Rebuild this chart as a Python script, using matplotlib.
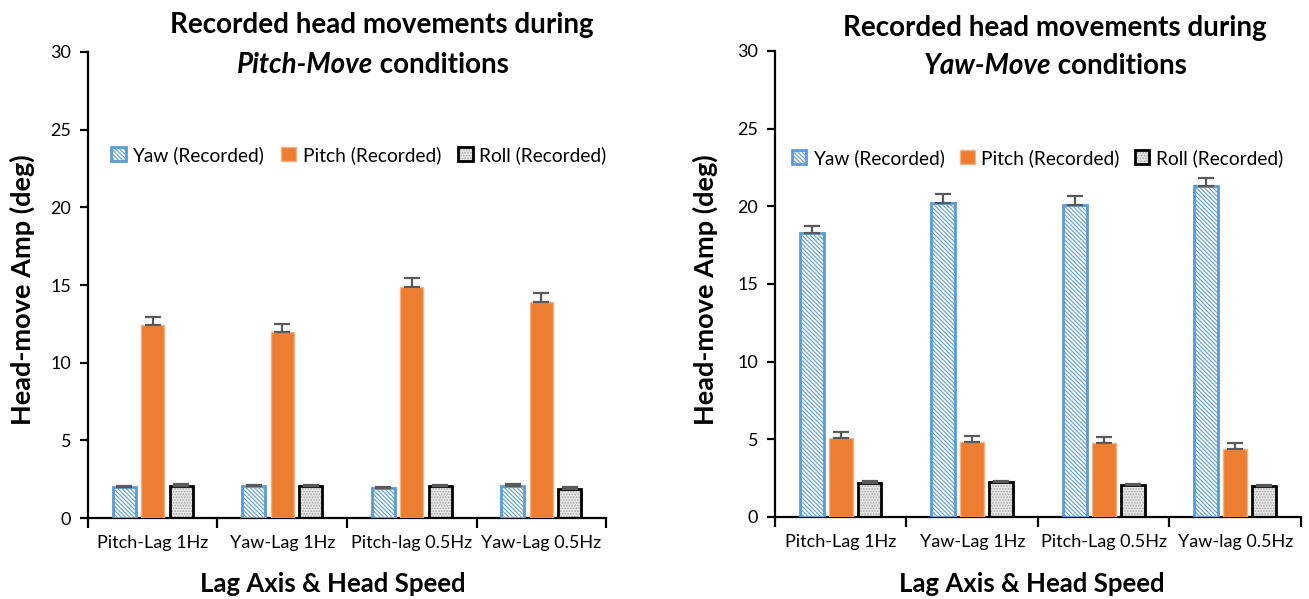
import matplotlib.pyplot as plt
import numpy as np

plt.rcParams['font.family'] = ['Lato', 'DejaVu Sans']
plt.rcParams['hatch.linewidth'] = 0.8

# Pitch-Move conditions
pitch_cats = ["Pitch-Lag 1Hz", "Yaw-Lag 1Hz", "Pitch-lag 0.5Hz", "Yaw-Lag 0.5Hz"]
pm_yaw = [1.98, 2.05, 1.92, 2.08]
pm_yaw_err = [0.08, 0.08, 0.08, 0.08]
pm_pitch = [12.45, 12.0, 14.85, 13.9]
pm_pitch_err = [0.52, 0.52, 0.58, 0.57]
pm_roll = [2.07, 2.05, 2.03, 1.88]
pm_roll_err = [0.12, 0.1, 0.12, 0.1]

# Yaw-Move conditions
yaw_cats = ["Pitch-Lag 1Hz", "Yaw-Lag 1Hz", "Pitch-Lag 0.5Hz", "Yaw-lag 0.5Hz"]
ym_yaw = [18.27, 20.2, 20.09, 21.29]
ym_yaw_err = [0.49, 0.58, 0.58, 0.55]
ym_pitch = [5.1, 4.81, 4.79, 4.4]
ym_pitch_err = [0.37, 0.38, 0.36, 0.35]
ym_roll = [2.21, 2.23, 2.08, 2.0]
ym_roll_err = [0.08, 0.07, 0.07, 0.06]

BLUE = "#5B9BD5"
ORANGE = "#ED7D31"
ERR = "#595959"

fig = plt.figure(figsize=(13.09, 5.99), dpi=100)
ax1 = fig.add_axes([0.0672, 0.1352, 0.3958, 0.778])
ax2 = fig.add_axes([0.592, 0.1369, 0.4019, 0.778])


def draw_panel(ax, cats, yaw, yaw_err, pitch, pitch_err, roll, roll_err):
    x = np.arange(len(cats))
    off = 0.22
    w = 0.18
    ekw = dict(ecolor=ERR, elinewidth=1.6, capsize=6, capthick=1.6)
    up = lambda e: [np.zeros(len(e)), e]

    # yaw: white bars with blue diagonal hatching
    yb = ax.bar(x - off, yaw, w, color="white", edgecolor=BLUE, hatch="\\\\\\\\\\\\\\\\",
                linewidth=2, yerr=up(yaw_err), error_kw=ekw, zorder=3)
    # pitch: solid orange
    pb = ax.bar(x, pitch, w, color=ORANGE, edgecolor="#F4B183", linewidth=1,
                yerr=up(pitch_err), error_kw=ekw, zorder=3)
    # roll: stippled gray with black outline
    rh = ax.bar(x + off, roll, w, color="#E6E6E6", edgecolor="#A8A8A8", hatch="......",
                linewidth=0, zorder=2)
    ro = ax.bar(x + off, roll, w, fill=False, edgecolor="black", linewidth=2,
                yerr=up(roll_err), error_kw=ekw, zorder=3)

    ax.set_xlim(-0.5, len(cats) - 0.5)
    ax.set_ylim(0, 30)
    ax.set_yticks(range(0, 31, 5))
    ax.set_xticks(x)
    ax.set_xticklabels(cats, fontsize=13)
    ax.set_xticks(np.arange(-0.5, len(cats), 1.0), minor=True)
    ax.tick_params(axis="x", which="major", length=0, pad=12)
    ax.tick_params(axis="x", which="minor", length=7, width=1.6, direction="out")
    ax.tick_params(axis="y", length=6, width=1.6, labelsize=13, pad=6)
    for s in ["top", "right"]:
        ax.spines[s].set_visible(False)
    for s in ["left", "bottom"]:
        ax.spines[s].set_linewidth(1.6)
    return [yb.patches[0], pb.patches[0], (rh.patches[0], ro.patches[0])]


def add_legend(ax, handles, x0, y0, spacing):
    ax.legend(handles, ["Yaw (Recorded)", "Pitch (Recorded)", "Roll (Recorded)"],
              ncol=3, frameon=False, fontsize=13.8,
              loc="center left", bbox_to_anchor=(x0, y0), bbox_transform=fig.transFigure,
              handlelength=0.75, handleheight=0.75, handletextpad=0.35, columnspacing=spacing,
              borderaxespad=0, borderpad=0)


h1 = draw_panel(ax1, pitch_cats, pm_yaw, pm_yaw_err, pm_pitch, pm_pitch_err, pm_roll, pm_roll_err)
h2 = draw_panel(ax2, yaw_cats, ym_yaw, ym_yaw_err, ym_pitch, ym_pitch_err, ym_roll, ym_roll_err)
add_legend(ax1, h1, 0.085, 0.741, 0.9)
add_legend(ax2, h2, 0.605, 0.736, 0.8)

# axis titles
for xc in (0.0168, 0.539):
    fig.text(xc, 0.516, "Head-move Amp (deg)", rotation=90, ha="center", va="center",
             fontsize=19.5, fontweight="bold")
for xc in (0.254, 0.788):
    fig.text(xc, 0.025, "Lag Axis & Head Speed", ha="center", va="center",
             fontsize=18.5, fontweight="bold")

# two-line titles with italic condition name
fig.canvas.draw()
renderer = fig.canvas.get_renderer()


def add_title(xc1, xc2, y1, y2, name):
    fig.text(xc1, y1, "Recorded head movements during", ha="center", va="center",
             fontsize=20, fontweight="bold")
    a = fig.text(0, y2, name, ha="left", va="center", fontsize=20,
                 fontweight="bold", style="italic")
    b = fig.text(0, y2, " conditions", ha="left", va="center", fontsize=20,
                 fontweight="bold")
    wa = a.get_window_extent(renderer).width / fig.bbox.width
    wb = b.get_window_extent(renderer).width / fig.bbox.width
    start = xc2 - (wa + wb) / 2
    a.set_x(start)
    b.set_x(start + wa)


add_title(0.292, 0.285, 0.958, 0.891, "Pitch-Move")
add_title(0.806, 0.806, 0.953, 0.890, "Yaw-Move")

fig.savefig("out.png", dpi=100)
